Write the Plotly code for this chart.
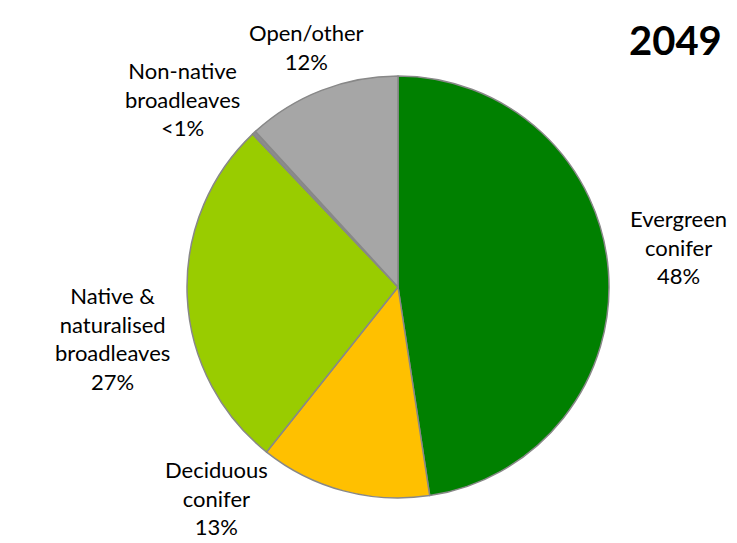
import plotly.graph_objects as go

# Woodland composition shares, clockwise from 12 o'clock
categories = [
    "Evergreen<br>conifer",
    "Deciduous<br>conifer",
    "Native &<br>naturalised<br>broadleaves",
    "Non-native<br>broadleaves",
    "Open/other",
]
shares = [47.6, 13.1, 27.2, 0.3, 11.8]
share_labels = ["48%", "13%", "27%", "<1%", "12%"]
colors = ["#008000", "#FFC000", "#99CC00", "#8C8C8C", "#A6A6A6"]
year = "2049"

W, H = 737, 543
FONT = "Lato, 'Open Sans', sans-serif"

fig = go.Figure()
fig.add_trace(
    go.Pie(
        labels=[c.replace("<br>", " ") for c in categories],
        values=shares,
        sort=False,
        direction="clockwise",
        rotation=0,
        marker=dict(colors=colors, line=dict(color="#888888", width=1.5)),
        textinfo="none",
        hoverinfo="label+percent",
        showlegend=False,
        domain=dict(x=[179 / W, 601 / W], y=[(H - 490) / H, (H - 68) / H]),
    )
)

# label positions in pixels (x centre, y centre)
label_pos = [(670, 239), (208, 490), (104, 330), (174, 91), (298, 39)]
for cat, lab, (px, py) in zip(categories, share_labels, label_pos):
    fig.add_annotation(
        x=px / W, y=1 - py / H, xref="paper", yref="paper",
        text=f"{cat}<br>{lab}", showarrow=False,
        font=dict(family=FONT, size=22, color="#000000"),
        align="center", xanchor="center", yanchor="middle",
    )

fig.add_annotation(
    x=667 / W, y=1 - 32 / H, xref="paper", yref="paper",
    text=f"<b>{year}</b>", showarrow=False,
    font=dict(family=FONT, size=40, color="#000000"),
    xanchor="center", yanchor="middle",
)

fig.update_layout(
    width=W, height=H,
    margin=dict(l=0, r=0, t=0, b=0),
    paper_bgcolor="white", plot_bgcolor="white",
)
fig.write_html("out.html")
